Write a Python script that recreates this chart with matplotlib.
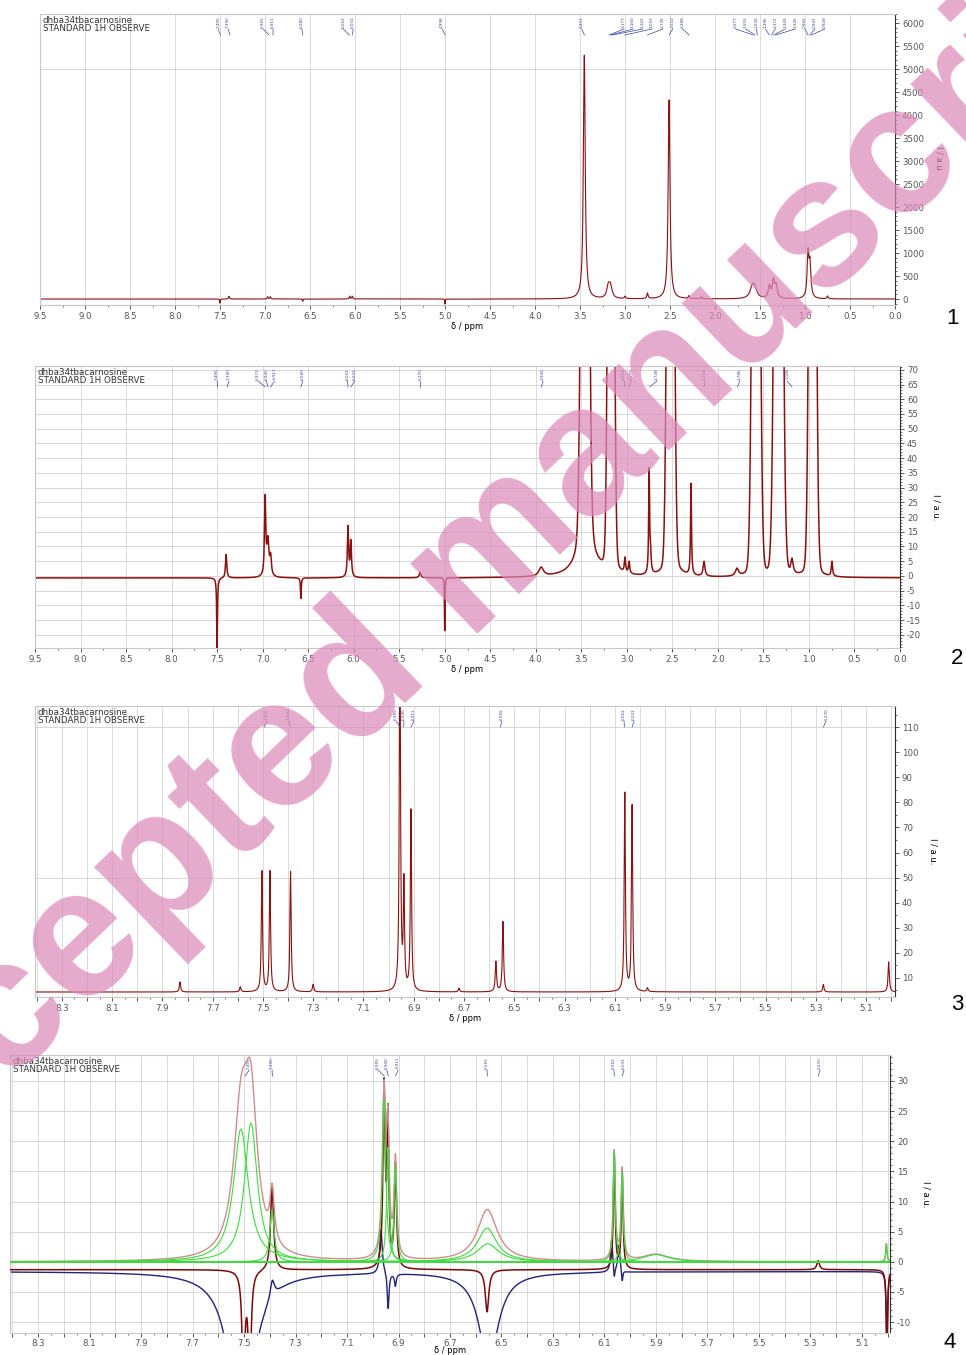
import numpy as np
import matplotlib
matplotlib.use('Agg')
import matplotlib.pyplot as plt
from matplotlib.ticker import MultipleLocator

# ---- panel 1 : full 1H spectrum (peak centre ppm, height, half width) ----
p1_pos = [3.452, 3.185, 3.160, 2.510, 1.585, 1.560, 1.395, 1.350, 1.320, 0.966, 0.944,
          7.400, 6.970, 6.940, 6.060, 6.030, 3.000, 2.750, 2.290, 2.150, 0.750,
          7.500, 6.580, 5.000]
p1_amp = [5300, 260, 240, 4330, 220, 180, 260, 380, 260, 950, 700,
          60, 50, 50, 60, 60, 50, 120, 60, 40, 60,
          -90, -50, -110]
p1_wid = [0.012, 0.02, 0.02, 0.012, 0.03, 0.03, 0.015, 0.015, 0.015, 0.012, 0.012,
          0.006, 0.006, 0.006, 0.006, 0.006, 0.008, 0.008, 0.008, 0.008, 0.008,
          0.003, 0.003, 0.003]
p1_xticks = [9.5, 9.0, 8.5, 8.0, 7.5, 7.0, 6.5, 6.0, 5.5, 5.0, 4.5, 4.0, 3.5, 3.0, 2.5, 2.0, 1.5, 1.0, 0.5, 0.0]
p1_yticks = list(range(0, 6001, 500))
p1_lab_at = [7.52, 7.41, 7.02, 6.91, 6.59, 6.13, 6.02, 5.03, 3.48, 3.01, 2.91, 2.80, 2.70, 2.58, 2.47, 2.36,
             1.77, 1.66, 1.54, 1.44, 1.33, 1.22, 1.11, 1.00, 0.89, 0.78]
p1_lab_txt = ['7.495', '7.390', '6.955', '6.911', '6.580', '6.062', '6.031', '4.998', '3.451',
              '3.177', '3.160', '3.143', '3.003', '2.749', '2.510', '2.288',
              '1.577', '1.555', '1.530', '1.396', '1.372', '1.349', '1.326', '0.966', '0.947', '0.928']

# ---- panel 2 : vertical expansion ----
p2_base = -0.7
# sharp / small lines (lorentzian)
p2_pos = [7.500, 7.400, 6.972, 6.942, 6.912, 6.580, 6.062, 6.031, 5.270, 5.000, 3.940,
          3.455, 3.172, 3.020, 2.975, 2.755, 2.740, 2.515, 2.295, 2.152, 1.790,
          1.580, 1.334, 1.186, 0.960, 0.747]
p2_amp = [-24, 8, 26, 12, 6, -7, 17, 12, 2, -18, 3,
          28, 10, 5, 4, 35, 6, 12, 31, 5, 2.5,
          10, 10, 5, 10, 5]
p2_wid = [0.005, 0.008, 0.008, 0.014, 0.010, 0.005, 0.008, 0.008, 0.010, 0.003, 0.030,
          0.075, 0.050, 0.008, 0.008, 0.006, 0.008, 0.060, 0.006, 0.012, 0.020,
          0.050, 0.050, 0.015, 0.050, 0.008]
# strong, off-scale lines (gaussian cores)
p2_big_pos = [3.459, 3.174, 2.520, 1.581, 1.334, 0.960]
p2_big_amp = [400, 400, 400, 400, 400, 400]
p2_big_wid = [0.0347, 0.0278, 0.0315, 0.0347, 0.0380, 0.0315]
p2_yticks = list(range(-20, 71, 5))
p2_lab_at = [7.50, 7.37, 7.05, 6.96, 6.87, 6.56, 6.07, 5.99, 5.27, 3.92, 3.03, 2.95, 2.67, 2.14, 1.76, 1.24]
p2_lab_txt = ['7.495', '7.390', '6.972', '6.940', '6.911', '6.580', '6.062', '6.031', '5.270',
              '3.940', '3.021', '2.975', '2.749', '2.153', '1.786', '1.186']

# ---- panel 3 : aromatic region ----
p3_base = 4.4
p3_pos = [7.830, 7.590, 7.504, 7.472, 7.390, 7.300, 6.955, 6.939, 6.911, 6.720,
          6.573, 6.545, 6.060, 6.031, 5.970, 5.270, 5.010]
p3_amp = [4, 2, 48, 48, 48, 3, 150, 42, 72, 1.5,
          12, 28, 79, 74, 1.5, 3, 12]
p3_wid = [0.003, 0.003, 0.0028, 0.0028, 0.0028, 0.003, 0.0028, 0.0028, 0.0028, 0.003,
          0.003, 0.003, 0.0028, 0.0028, 0.003, 0.003, 0.003]
p3_xticks = [8.3, 8.1, 7.9, 7.7, 7.5, 7.3, 7.1, 6.9, 6.7, 6.5, 6.3, 6.1, 5.9, 5.7, 5.5, 5.3, 5.1]
p3_yticks = list(range(10, 111, 10))
p3_lab_at = [7.484, 7.397, 6.970, 6.939, 6.899, 6.549, 6.063, 6.023, 5.259]
p3_lab_txt = ['7.495', '7.390', '6.955', '6.940', '6.911', '6.555', '6.062', '6.031', '5.270']

# ---- panel 4 : deconvolution (green components, brown sum, red data, blue trace) ----
p4_fit_pos = [7.512, 7.473, 7.391, 6.956, 6.941, 6.912, 6.556, 6.553, 6.062, 6.031, 5.900, 5.005]
p4_fit_amp = [22, 23, 8.6, 27, 19, 16, 5.6, 3.0, 18, 15, 1.2, 3.0]
p4_fit_wid = [0.035, 0.030, 0.010, 0.008, 0.006, 0.006, 0.045, 0.050, 0.005, 0.005, 0.060, 0.003]
p4_red_base = -1.3
p4_red_pos = [7.502, 7.478, 7.391, 6.956, 6.941, 6.912, 6.556, 6.062, 6.031, 5.270, 5.003]
p4_red_amp = [-20, -20, 14, 30, 24, 17, -7, 19, 16, 1.5, -14]
p4_red_wid = [0.006, 0.006, 0.007, 0.005, 0.004, 0.005, 0.008, 0.004, 0.004, 0.006, 0.003]
p4_blue_base = -1.6
p4_blue_pos = [7.510, 7.390, 6.968, 6.940, 6.912, 6.550, 6.072, 6.062, 6.044, 6.031, 5.003]
p4_blue_amp = [-30, 3, 7.5, -6, -2, -15, 5.5, -2, 4.5, -2, -14]
p4_blue_wid = [0.05, 0.010, 0.006, 0.004, 0.004, 0.045, 0.005, 0.003, 0.005, 0.003, 0.003]
p4_yticks = list(range(-10, 31, 5))
p4_lab_at = [7.480, 7.391, 6.980, 6.945, 6.902, 6.556, 6.063, 6.024, 5.263]
p4_lab_txt = p3_lab_txt


def lorentz(x, pos, amp, wid, base=0.0):
    y = np.full_like(x, base)
    for c, a, w in zip(pos, amp, wid):
        y += a / (1 + ((x - c) / w) ** 2)
    return y


def gauss(x, pos, amp, wid):
    y = np.zeros_like(x)
    for c, a, w in zip(pos, amp, wid):
        y += a * np.exp(-np.log(2) * ((x - c) / w) ** 2)
    return y


W, H = 966, 1355
fig = plt.figure(figsize=(W / 100, H / 100), dpi=100)
RED = '#8b1010'


def panel(l, t, r, b):
    return fig.add_axes([l / W, 1 - b / H, (r - l) / W, (b - t) / H])


def style(ax, xlim, ylim, xticks, xlabels, xminor, yticks, yminor, hgrid, lpad=1):
    ax.set_xlim(*xlim)
    ax.set_ylim(*ylim)
    ax.yaxis.tick_right()
    ax.set_xticks(xticks)
    ax.set_xticklabels(xlabels)
    ax.xaxis.set_minor_locator(MultipleLocator(xminor))
    ax.set_yticks(yticks)
    ax.set_yticklabels([str(v) for v in yticks])
    ax.yaxis.set_minor_locator(MultipleLocator(yminor))
    for s in ['left', 'top', 'bottom']:
        ax.spines[s].set_color('#c8c8c8')
        ax.spines[s].set_linewidth(0.8)
    ax.spines['right'].set_color('#303030')
    ax.spines['right'].set_linewidth(0.8)
    ax.tick_params(labelsize=6.2, color='#404040', labelcolor='#555555', length=3, width=0.6, pad=2)
    ax.tick_params(which='minor', length=1.5, width=0.5, color='#404040')
    ax.grid(axis='x', which='major', color='#d5d5d5', lw=0.6)
    for v in hgrid:
        ax.axhline(v, color='#d0d0d0', lw=0.6, zorder=0)
    ax.set_axisbelow(True)
    ax.text(0.003, 0.994, 'dhba34tbacarnosine\nSTANDARD 1H OBSERVE', transform=ax.transAxes,
            fontsize=6.3, va='top', ha='left', color='#333333', linespacing=0.85)
    ax.set_xlabel('δ / ppm', fontsize=6, labelpad=lpad)
    ax.yaxis.set_label_position('right')
    ax.set_ylabel('I / a.u.', fontsize=6, rotation=-90, labelpad=14)


def peak_labels(ax, at, txt, hpx):
    tr = ax.get_xaxis_transform()
    for xa, t in zip(at, txt):
        ax.text(xa, 1 - 2 / hpx, t, transform=tr, rotation=90, fontsize=3, color='#3a46a0',
                ha='center', va='top')
        ax.plot([xa, float(t)], [1 - 15 / hpx, 1 - 21 / hpx], transform=tr, color='#3a46a0', lw=0.5)


# panel 1
ax1 = panel(40, 14, 895, 305)
x1 = np.linspace(0, 9.5, 30000)
ax1.plot(x1, lorentz(x1, p1_pos, p1_amp, p1_wid), color=RED, lw=0.8)
style(ax1, (9.5, 0.0), (-130, 6200), p1_xticks, [f'{v:.1f}' for v in p1_xticks], 0.25,
      p1_yticks, 100, [5000])
peak_labels(ax1, p1_lab_at, p1_lab_txt, 291)

# panel 2
ax2 = panel(35, 366, 900, 648)
x2 = np.linspace(0, 9.5, 30000)
y2 = lorentz(x2, p2_pos, p2_amp, p2_wid, p2_base) + gauss(x2, p2_big_pos, p2_big_amp, p2_big_wid)
ax2.plot(x2, y2, color=RED, lw=1.1)
style(ax2, (9.5, 0.0), (-24.5, 71.3), p1_xticks, [f'{v:.1f}' for v in p1_xticks], 0.25,
      p2_yticks, 1, p2_yticks)
peak_labels(ax2, p2_lab_at, p2_lab_txt, 282)

# panel 3
ax3 = panel(35, 706, 895, 997)
x3 = np.linspace(4.98, 8.41, 30000)
ax3.plot(x3, lorentz(x3, p3_pos, p3_amp, p3_wid, p3_base), color=RED, lw=0.8)
fine = np.round(np.arange(8.4, 4.95, -0.1), 1)
style(ax3, (8.407, 4.985), (2.4, 118.4), fine, [f'{v:.1f}' if v in p3_xticks else '' for v in fine],
      0.05, p3_yticks, 5, [50, 110])
peak_labels(ax3, p3_lab_at, p3_lab_txt, 291)

# panel 4
ax4 = panel(10, 1055, 890, 1333)
x4 = np.linspace(4.98, 8.41, 30000)
ax4.plot(x4, lorentz(x4, p4_blue_pos, p4_blue_amp, p4_blue_wid, p4_blue_base), color='#23237a', lw=1.0, zorder=2)
ax4.plot(x4, lorentz(x4, p4_red_pos, p4_red_amp, p4_red_wid, p4_red_base), color='#7a0a0a', lw=1.1, zorder=3)
ax4.plot(x4, lorentz(x4, p4_fit_pos, p4_fit_amp, p4_fit_wid), color='#c99090', lw=1.0, zorder=4)
for c, a, w in zip(p4_fit_pos, p4_fit_amp, p4_fit_wid):
    ax4.plot(x4, lorentz(x4, [c], [a], [w]), color='#3ddc3d', lw=0.8, zorder=5)
style(ax4, (8.409, 4.991), (-11.8, 34.3), fine, [f'{v:.1f}' if v in p3_xticks else '' for v in fine],
      0.05, p4_yticks, 1, p4_yticks, lpad=-1)
ax4.tick_params(axis='x', pad=1)
peak_labels(ax4, p4_lab_at, p4_lab_txt, 278)

# panel numbers
for n, (px, py) in enumerate([(952, 318), (957, 658), (957, 1005), (950, 1343)], start=1):
    fig.text(px / W, 1 - py / H, str(n), fontsize=16, ha='center', va='center', family='Liberation Sans')

# watermark
fig.text(477 / W, 1 - 569 / H, 'Accepted manuscript', rotation=43.8, fontsize=132, color='#dc8ab8',
         alpha=0.72, ha='center', va='center', fontweight='bold', family='Liberation Sans', zorder=10)

fig.savefig('out.png', dpi=100)
